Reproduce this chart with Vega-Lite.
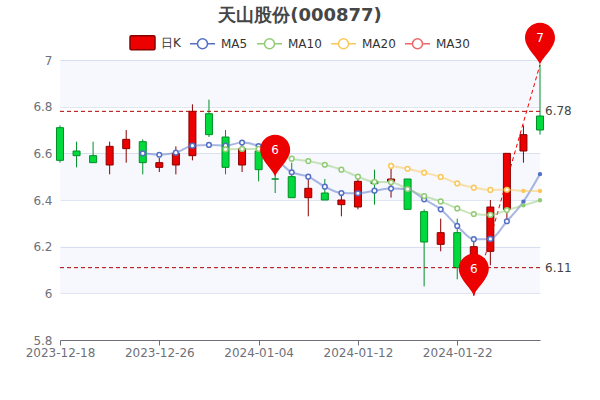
{
"$schema":"https://vega.github.io/schema/vega-lite/v6.json",
"width":480,"height":280,"autosize":"none","padding":{"left":60,"top":60,"right":60,"bottom":60},
"background":"#ffffff",
"title":{"text":"天山股份(000877)","anchor":"middle","fontSize":18,"fontWeight":"bold","color":"#464646","font":"DejaVu Sans","offset":12,"dy":14},
"config":{"font":"DejaVu Sans","view":{"stroke":null}},
"datasets":{
"bands":[{"lo":6.8,"hi":7},{"lo":6.4,"hi":6.6},{"lo":6.0,"hi":6.2}],
"candles":[
{"i":0,"date":"2023-12-18","open":6.71,"close":6.57,"high":6.72,"low":6.56,"dir":"down"},
{"i":1,"date":"2023-12-19","open":6.61,"close":6.59,"high":6.65,"low":6.54,"dir":"down"},
{"i":2,"date":"2023-12-20","open":6.59,"close":6.56,"high":6.65,"low":6.56,"dir":"down"},
{"i":3,"date":"2023-12-21","open":6.55,"close":6.63,"high":6.65,"low":6.51,"dir":"up"},
{"i":4,"date":"2023-12-22","open":6.62,"close":6.66,"high":6.7,"low":6.56,"dir":"up"},
{"i":5,"date":"2023-12-25","open":6.65,"close":6.56,"high":6.66,"low":6.51,"dir":"down"},
{"i":6,"date":"2023-12-26","open":6.54,"close":6.56,"high":6.58,"low":6.52,"dir":"up"},
{"i":7,"date":"2023-12-27","open":6.55,"close":6.6,"high":6.63,"low":6.51,"dir":"up"},
{"i":8,"date":"2023-12-28","open":6.59,"close":6.78,"high":6.81,"low":6.57,"dir":"up"},
{"i":9,"date":"2023-12-29","open":6.77,"close":6.68,"high":6.83,"low":6.67,"dir":"down"},
{"i":10,"date":"2024-01-02","open":6.67,"close":6.54,"high":6.7,"low":6.51,"dir":"down"},
{"i":11,"date":"2024-01-03","open":6.55,"close":6.62,"high":6.64,"low":6.52,"dir":"up"},
{"i":12,"date":"2024-01-04","open":6.61,"close":6.53,"high":6.64,"low":6.48,"dir":"down"},
{"i":13,"date":"2024-01-05","open":6.49,"close":6.49,"high":6.56,"low":6.43,"dir":"down"},
{"i":14,"date":"2024-01-08","open":6.5,"close":6.41,"high":6.56,"low":6.41,"dir":"down"},
{"i":15,"date":"2024-01-09","open":6.41,"close":6.45,"high":6.51,"low":6.33,"dir":"up"},
{"i":16,"date":"2024-01-10","open":6.43,"close":6.4,"high":6.49,"low":6.4,"dir":"down"},
{"i":17,"date":"2024-01-11","open":6.38,"close":6.4,"high":6.43,"low":6.33,"dir":"up"},
{"i":18,"date":"2024-01-12","open":6.37,"close":6.48,"high":6.49,"low":6.36,"dir":"up"},
{"i":19,"date":"2024-01-15","open":6.48,"close":6.47,"high":6.53,"low":6.38,"dir":"down"},
{"i":20,"date":"2024-01-16","open":6.48,"close":6.49,"high":6.54,"low":6.41,"dir":"up"},
{"i":21,"date":"2024-01-17","open":6.49,"close":6.36,"high":6.49,"low":6.36,"dir":"down"},
{"i":22,"date":"2024-01-18","open":6.35,"close":6.22,"high":6.36,"low":6.03,"dir":"down"},
{"i":23,"date":"2024-01-19","open":6.21,"close":6.26,"high":6.32,"low":6.18,"dir":"up"},
{"i":24,"date":"2024-01-22","open":6.26,"close":6.11,"high":6.32,"low":6.06,"dir":"down"},
{"i":25,"date":"2024-01-23","open":6.12,"close":6.2,"high":6.23,"low":5.99,"dir":"up"},
{"i":26,"date":"2024-01-24","open":6.18,"close":6.37,"high":6.4,"low":6.12,"dir":"up"},
{"i":27,"date":"2024-01-25","open":6.36,"close":6.6,"high":6.6,"low":6.31,"dir":"up"},
{"i":28,"date":"2024-01-26","open":6.61,"close":6.68,"high":6.72,"low":6.56,"dir":"up"},
{"i":29,"date":"2024-01-29","open":6.76,"close":6.7,"high":6.98,"low":6.68,"dir":"down"}
],
"ma":[
{"i":5,"series":"MA5","value":6.6},
{"i":6,"series":"MA5","value":6.594},
{"i":7,"series":"MA5","value":6.603},
{"i":8,"series":"MA5","value":6.633},
{"i":9,"series":"MA5","value":6.636},
{"i":10,"series":"MA5","value":6.633},
{"i":11,"series":"MA5","value":6.646},
{"i":12,"series":"MA5","value":6.631},
{"i":13,"series":"MA5","value":6.58},
{"i":14,"series":"MA5","value":6.519},
{"i":15,"series":"MA5","value":6.5},
{"i":16,"series":"MA5","value":6.457},
{"i":17,"series":"MA5","value":6.43},
{"i":18,"series":"MA5","value":6.429},
{"i":19,"series":"MA5","value":6.44},
{"i":20,"series":"MA5","value":6.449},
{"i":21,"series":"MA5","value":6.446},
{"i":22,"series":"MA5","value":6.403},
{"i":23,"series":"MA5","value":6.36},
{"i":24,"series":"MA5","value":6.289},
{"i":25,"series":"MA5","value":6.232},
{"i":26,"series":"MA5","value":6.233},
{"i":27,"series":"MA5","value":6.309},
{"i":28,"series":"MA5","value":6.393},
{"i":29,"series":"MA5","value":6.511},
{"i":10,"series":"MA10","value":6.617},
{"i":11,"series":"MA10","value":6.619},
{"i":12,"series":"MA10","value":6.619},
{"i":13,"series":"MA10","value":6.605},
{"i":14,"series":"MA10","value":6.577},
{"i":15,"series":"MA10","value":6.567},
{"i":16,"series":"MA10","value":6.551},
{"i":17,"series":"MA10","value":6.53},
{"i":18,"series":"MA10","value":6.5},
{"i":19,"series":"MA10","value":6.478},
{"i":20,"series":"MA10","value":6.476},
{"i":21,"series":"MA10","value":6.447},
{"i":22,"series":"MA10","value":6.417},
{"i":23,"series":"MA10","value":6.394},
{"i":24,"series":"MA10","value":6.364},
{"i":25,"series":"MA10","value":6.34},
{"i":26,"series":"MA10","value":6.336},
{"i":27,"series":"MA10","value":6.357},
{"i":28,"series":"MA10","value":6.377},
{"i":29,"series":"MA10","value":6.399},
{"i":20,"series":"MA20","value":6.546},
{"i":21,"series":"MA20","value":6.534},
{"i":22,"series":"MA20","value":6.517},
{"i":23,"series":"MA20","value":6.499},
{"i":24,"series":"MA20","value":6.471},
{"i":25,"series":"MA20","value":6.453},
{"i":26,"series":"MA20","value":6.443},
{"i":27,"series":"MA20","value":6.444},
{"i":28,"series":"MA20","value":6.439},
{"i":29,"series":"MA20","value":6.439}
],
"levels":[{"i":29,"value":6.78},{"i":29,"value":6.11}],
"trend":[{"i":25,"value":5.99},{"i":29,"value":6.98}],
"pins":[{"i":13,"value":6.5,"label":"6"},{"i":25,"value":5.99,"label":"6"},{"i":29,"value":6.98,"label":"7"}]
},
"layer":[
{"data":{"name":"bands"},"mark":{"type":"rect","fill":"#2040c0","opacity":0.04},
 "encoding":{"y":{"field":"lo","type":"quantitative","title":null,"scale":{"domain":[5.8,7],"nice":false,"zero":false},
  "axis":{"values":[5.8,6,6.2,6.4,6.6,6.8,7],"format":"~r","domain":false,"ticks":false,"grid":true,"gridColor":"#E0E6F1","gridWidth":1,"labelColor":"#6E7079","labelFontSize":12,"labelPadding":8}},
  "y2":{"field":"hi"}}},
{"encoding":{
  "x":{"field":"i","type":"quantitative","title":null,"scale":{"domain":[0,29],"nice":false,"zero":false,"padding":0},
   "axis":{"values":[0,6,12,18,24],"labelExpr":"datum.value==0?'2023-12-18':datum.value==6?'2023-12-26':datum.value==12?'2024-01-04':datum.value==18?'2024-01-12':'2024-01-22'","labelAngle":0,"labelAlign":"center","labelBaseline":"top","labelColor":"#6E7079","labelFontSize":12,"labelPadding":2,"labelOverlap":false,"labelBound":false,"labelFlush":false,"domain":true,"ticks":true,"domainColor":"#6E7079","tickColor":"#6E7079","tickSize":5,"grid":false}}},
 "layer":[
 {"data":{"name":"candles"},"mark":{"type":"rule","strokeWidth":1},
  "encoding":{"y":{"field":"low","type":"quantitative"},"y2":{"field":"high"},
   "stroke":{"condition":{"test":"datum.dir==='up'","value":"#8A0000"},"value":"#008F28"}}},
 {"data":{"name":"candles"},"mark":{"type":"bar","size":7,"strokeWidth":1},
  "encoding":{"y":{"field":"open","type":"quantitative"},"y2":{"field":"close"},
   "fill":{"condition":{"test":"datum.dir==='up'","value":"#ec0000"},"value":"#00da3c"},
   "stroke":{"condition":{"test":"datum.dir==='up'","value":"#8A0000"},"value":"#008F28"}}}
 ]},
{"data":{"name":"levels"},"mark":{"type":"rule","stroke":"#b00000","strokeDash":[4,3],"strokeWidth":1},
 "encoding":{"y":{"field":"value","type":"quantitative"}}},
{"encoding":{
  "x":{"field":"i","type":"quantitative","title":null,"scale":{"domain":[0,29],"nice":false,"zero":false,"padding":0}},
  "y":{"field":"value","type":"quantitative"}},
 "layer":[
 {"data":{"name":"levels"},"mark":{"type":"text","align":"left","dx":5,"fontSize":12,"color":"#444444"},
  "encoding":{"text":{"field":"value","type":"quantitative","format":".2f"}}},
 {"data":{"name":"trend"},"mark":{"type":"line","stroke":"#ec0000","strokeDash":[4,3],"strokeWidth":1},"encoding":{}},
 {"data":{"name":"ma"},"mark":{"type":"line","interpolate":"monotone","strokeWidth":2,"opacity":0.5},
  "encoding":{"stroke":{"field":"series","type":"nominal","sort":null,
    "scale":{"domain":["日K","MA5","MA10","MA20","MA30"],"range":["#8A0000","#5470c6","#91cc75","#fac858","#ee6666"]},
    "legend":{"orient":"none","legendX":69,"legendY":-31,"direction":"horizontal","columns":5,"title":null,"symbolSize":625,"labelOffset":5,"columnPadding":6,"labelFontSize":12,"labelColor":"#333333",
     "encoding":{"symbols":{
      "shape":{"value":{"signal":"datum.value==='日K'?'M-0.9,-0.56 L0.9,-0.56 Q1,-0.56 1,-0.46 L1,0.46 Q1,0.56 0.9,0.56 L-0.9,0.56 Q-1,0.56 -1,0.46 L-1,-0.46 Q-1,-0.56 -0.9,-0.56 Z':'M-1,0 L-0.4,0 M0.4,0 L1,0 M-0.4,0 A0.4,0.4 0 1 1 0.4,0 A0.4,0.4 0 1 1 -0.4,0 Z'"}},
      "fill":{"value":{"signal":"datum.value==='日K'?'#ec0000':'#ffffff'"}},
      "strokeWidth":{"value":1.5},"opacity":{"value":1}}}}}}},
 {"data":{"name":"ma"},"transform":[{"filter":"datum.i<28"}],"mark":{"type":"point","shape":"circle","filled":false,"fill":"#ffffff","size":22,"strokeWidth":1.5,"opacity":1},
  "encoding":{"stroke":{"field":"series","type":"nominal","sort":null,"legend":null,"scale":{"domain":["日K","MA5","MA10","MA20","MA30"],"range":["#8A0000","#5470c6","#91cc75","#fac858","#ee6666"]}}}},
 {"data":{"name":"ma"},"transform":[{"filter":"datum.i>=28"}],"mark":{"type":"point","shape":"circle","filled":false,"fill":null,"size":5,"strokeWidth":2.2,"opacity":1},
  "encoding":{"stroke":{"field":"series","type":"nominal","sort":null,"legend":null,"scale":{"domain":["日K","MA5","MA10","MA20","MA30"],"range":["#8A0000","#5470c6","#91cc75","#fac858","#ee6666"]}}}},
 {"data":{"name":"pins"},"mark":{"type":"point","shape":"M0,0 C-0.05,-0.22 -0.5,-0.55 -0.5,-0.9 A0.5,0.5 0 1 1 0.5,-0.9 C0.5,-0.55 0.05,-0.22 0,0 Z","filled":true,"size":3600,"fill":"#ec0000","color":"#ec0000","opacity":1},"encoding":{}},
 {"data":{"name":"pins"},"mark":{"type":"text","dy":-27,"fontSize":12,"color":"#ffffff","align":"center","baseline":"middle"},
  "encoding":{"text":{"field":"label","type":"nominal"}}}
 ]}
]
}
